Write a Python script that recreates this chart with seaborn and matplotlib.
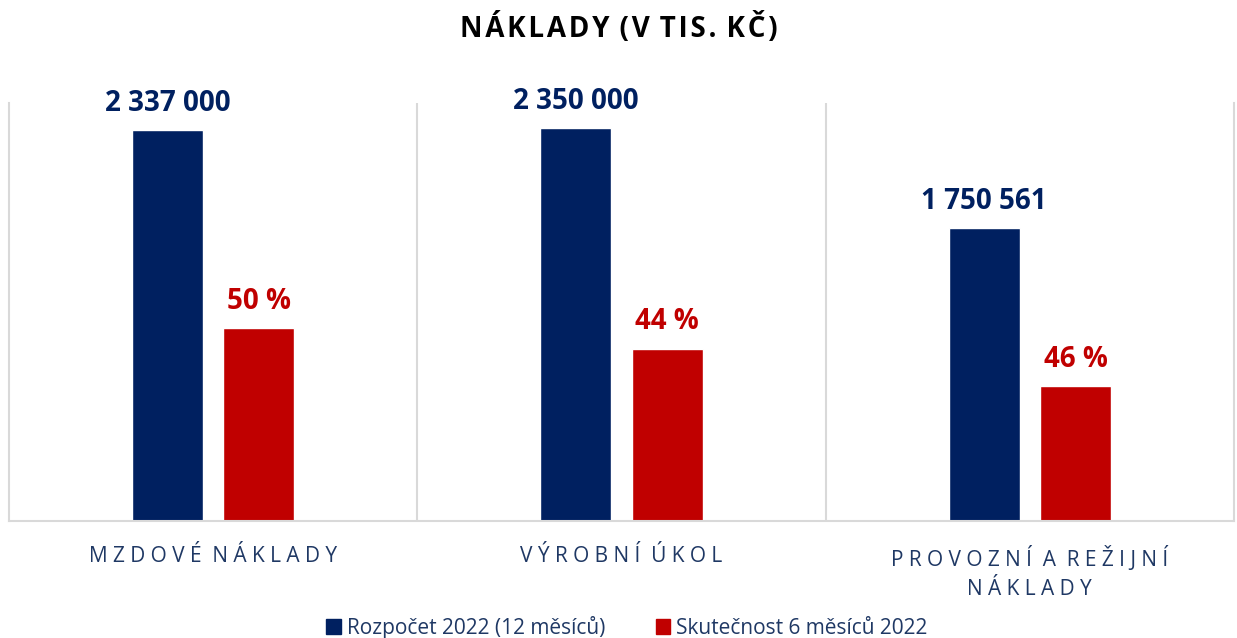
import matplotlib
matplotlib.use('Agg')
import matplotlib.pyplot as plt
import seaborn as sns
import pandas as pd

# values
categories = ['MZDOVÉ NÁKLADY', 'VÝROBNÍ ÚKOL', 'PROVOZNÍ A REŽIJNÍ\nNÁKLADY']
series = ['Rozpočet 2022 (12 měsíců)', 'Skutečnost 6 měsíců 2022']
budget = [2337000, 2350000, 1750561]
actual = [1154000, 1029000, 807000]
actual_pct = ['50 %', '44 %', '46 %']
colors = ['#002060', '#C00000']

def spaced(s, sep=' ', word='   '):
	# imitate letter spacing
	return '\n'.join(word.join(sep.join(w) for w in line.split(' ')) for line in s.split('\n'))

df = pd.DataFrame({
	'Kategorie': categories * 2,
	'Řada': [series[0]] * 3 + [series[1]] * 3,
	'Hodnota': budget + actual,
})

sns.set_style('white')
plt.rcParams['font.family'] = ['Open Sans', 'DejaVu Sans']

fig = plt.figure(figsize=(12.37, 6.38), dpi=100)
ax = fig.add_axes([0.0073, 0.1834, 0.9903, 0.6552])
sns.barplot(data=df, x='Kategorie', y='Hodnota', hue='Řada', palette=colors,
	width=0.447, gap=0.22, ax=ax, saturation=1, errorbar=None, legend=True)

ax.set_ylim(0, 2500000)
ax.set_xlim(-0.5, 2.5)
ax.set_yticks([])
ax.set_xlabel('')
ax.set_ylabel('')
for x in [0.5, 1.5]:
	ax.axvline(x, color='#D9D9D9', lw=1.5, zorder=0)
for side in ['left', 'right', 'bottom']:
	ax.spines[side].set_color('#D9D9D9')
	ax.spines[side].set_linewidth(1.5)
ax.spines['top'].set_visible(False)

ax.set_xticks(range(len(categories)))
ax.set_xticklabels([spaced(c, word='  ') for c in categories], color='#1F3864', fontsize=15,
	linespacing=1.5)
ax.tick_params(axis='x', length=0, pad=18)

# data labels
blue_bars, red_bars = ax.containers[0], ax.containers[1]
for bar, v in zip(blue_bars, budget):
	ax.annotate(f'{v:,}'.replace(',', ' '), (bar.get_x() + bar.get_width() / 2, bar.get_height()),
		xytext=(0, 14), textcoords='offset points', ha='center', va='baseline',
		fontsize=20, fontweight='bold', color=colors[0])
for bar, p in zip(red_bars, actual_pct):
	ax.annotate(p, (bar.get_x() + bar.get_width() / 2, bar.get_height()),
		xytext=(0, 14), textcoords='offset points', ha='center', va='baseline',
		fontsize=20, fontweight='bold', color=colors[1])

fig.suptitle(spaced('NÁKLADY (V TIS. KČ)', sep='\u200a', word=' \u200a'), y=0.98,
	fontsize=20, fontweight='bold', color='black')

ax.get_legend().remove()
handles = [plt.Rectangle((0, 0), 1, 1, color=c) for c in colors]
fig.legend(handles, series, loc='center', bbox_to_anchor=(0.507, 0.017), ncol=2, frameon=False,
	fontsize=15, handlelength=0.7, handleheight=0.7, handletextpad=0.3, columnspacing=2.4,
	labelcolor='#1F3864')

plt.savefig('out.png', dpi=100)
plt.close()
